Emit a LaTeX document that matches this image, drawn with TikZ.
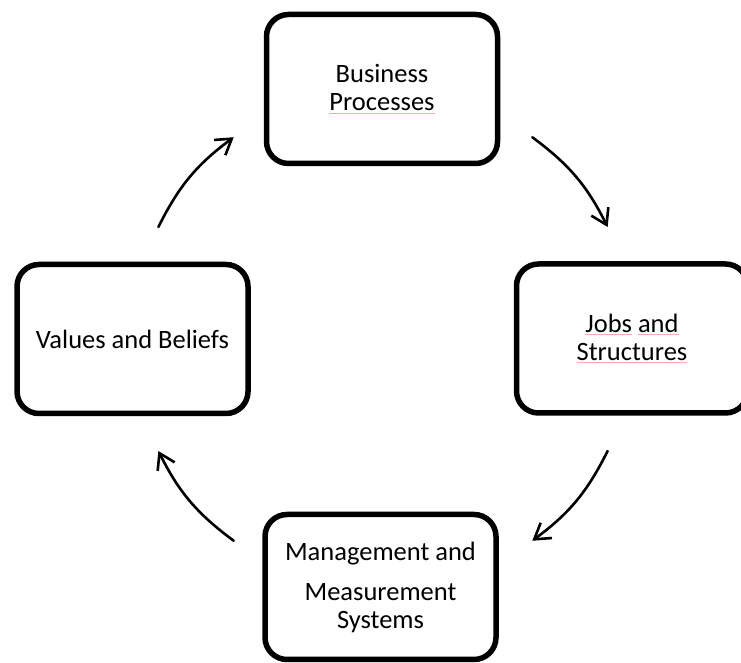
\documentclass[tikz,border=0pt]{standalone}
\usepackage{fontspec}
\setmainfont{Carlito}
\usetikzlibrary{arrows.meta}
\definecolor{squig}{RGB}{242,172,172}
\newcommand\spellmark[1]{\setbox0\hbox{#1}\rlap{\textcolor{squig}{\rule[-2.5pt]{\wd0}{0.8pt}}}\copy0\relax}
\tikzset{
  stagebox/.style={draw=black, line width=5.5pt, rounded corners=22pt,
    minimum width=231pt, minimum height=149pt, align=center, inner sep=0pt,
    font=\fontsize{26.5}{28}\selectfont},
  cyclearrow/.style={line width=2.6pt, line cap=round,
    -{Straight Barb[length=15pt,width=19pt,line width=2.6pt]}}
}
\begin{document}
\begin{tikzpicture}[x=1pt,y=1pt]
\useasboundingbox (0,0) rectangle (741,663);
\clip (0,0) rectangle (741,663);
\node[stagebox] (bp) at (382,574) {Business\\\spellmark{Processes}};
\node[stagebox] (js) at (632,324.5) {\spellmark{Jobs}\ \spellmark{and}\\\spellmark{Structures}};
\node[stagebox] (vb) at (132.5,324) {Values and Beliefs};
\node[stagebox, minimum height=145pt] (mm) at (380.5,76) {Management and\\[12pt]Measurement\\Systems};
\coordinate (ctr) at (383,324);
\coordinate (a1s) at ([shift={(153.5:251)}]ctr);
\coordinate (a1e) at ([shift={(126.5:251)}]ctr);
\coordinate (a2s) at ([shift={(53.5:251)}]ctr);
\coordinate (a2e) at ([shift={(26.5:251)}]ctr);
\coordinate (a3s) at ([shift={(-26.5:251)}]ctr);
\coordinate (a3e) at ([shift={(-53.5:251)}]ctr);
\coordinate (a4s) at ([shift={(-126.5:251)}]ctr);
\coordinate (a4e) at ([shift={(-153.5:251)}]ctr);
\draw[cyclearrow] (a1s) to[bend left=13.5] (a1e);
\draw[cyclearrow] (a2s) to[bend left=13.5] (a2e);
\draw[cyclearrow] (a3s) to[bend left=13.5] (a3e);
\draw[cyclearrow] (a4s) to[bend left=13.5] (a4e);
\end{tikzpicture}
\end{document}
